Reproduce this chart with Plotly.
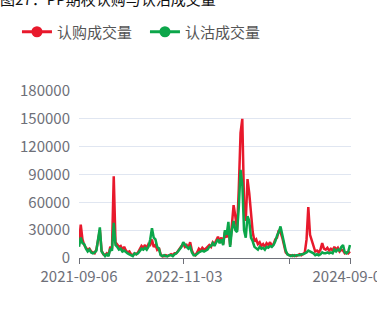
import pandas as pd
import plotly.graph_objects as go

TITLE = "图27：PP期权认购与认沽成交量"
SERIES_NAMES = ["认购成交量", "认沽成交量"]
START_DATE = "2021-09-06"
END_DATE = "2024-09-06 02:00"

# weekly readings (contracts)
call_volume = [
    15000, 36000, 20000, 14000, 11000, 9000, 10000, 7000, 6000, 5000,
    9000, 18000, 30000, 8000, 4000, 3000, 5000, 3000, 12000, 10000,
    88000, 17000, 14000, 12000, 13000, 9000, 12000, 8000, 6000, 7000,
    4000, 3000, 5000, 4000, 6000, 9000, 13000, 11000, 14000, 10000,
    15000, 14000, 20000, 12000, 14000, 9000, 11000, 4000, 2000, 2000,
    3000, 2000, 3000, 4000, 3000, 5000, 5000, 8000, 10000, 13000,
    15000, 12000, 14000, 11000, 17000, 8000, 4000, 3000, 6000, 10000,
    8000, 11000, 9000, 10000, 12000, 14000, 12000, 17000, 15000, 20000,
    23000, 18000, 22000, 15000, 28000, 22000, 33000, 14000, 40000, 57000,
    45000, 30000, 75000, 135000, 150000, 60000, 40000, 85000, 70000, 45000,
    28000, 18000, 20000, 15000, 17000, 13000, 15000, 12000, 16000, 14000,
    17000, 13000, 15000, 20000, 22000, 30000, 28000, 22000, 12000, 6000,
    4000, 3000, 3000, 2000, 3000, 2000, 3000, 4000, 3000, 5000,
    6000, 20000, 55000, 25000, 18000, 11000, 7000, 8000, 6000, 9000,
    16000, 10000, 9000, 11000, 8000, 10000, 8000, 12000, 9000, 11000,
    7000, 9000, 8000, 5000, 6000, 5000, 7000,
]
put_volume = [
    12000, 22000, 16000, 15000, 10000, 7000, 9000, 6000, 5000, 6000,
    8000, 20000, 33000, 7000, 5000, 2000, 4000, 2000, 10000, 8000,
    38000, 14000, 12000, 9000, 10000, 7000, 8000, 6000, 5000, 4000,
    3000, 2000, 5000, 4000, 5000, 7000, 10000, 9000, 11000, 9000,
    12000, 20000, 32000, 22000, 20000, 12000, 10000, 3000, 2000, 3000,
    2000, 2000, 3000, 3000, 2000, 4000, 5000, 7000, 9000, 12000,
    17000, 14000, 12000, 10000, 12000, 6000, 3000, 3000, 5000, 6000,
    7000, 8000, 7000, 8000, 9000, 12000, 13000, 16000, 13000, 17000,
    20000, 16000, 20000, 14000, 30000, 25000, 39000, 12000, 30000, 40000,
    30000, 28000, 55000, 95000, 80000, 30000, 22000, 45000, 40000, 22000,
    18000, 12000, 10000, 9000, 12000, 10000, 11000, 9000, 12000, 11000,
    13000, 12000, 14000, 18000, 24000, 28000, 34000, 25000, 14000, 8000,
    4000, 3000, 2000, 3000, 2000, 3000, 3000, 3000, 4000, 4000,
    5000, 6000, 8000, 7000, 6000, 5000, 3000, 4000, 3000, 4000,
    6000, 5000, 5000, 6000, 5000, 6000, 5000, 9000, 7000, 9000,
    8000, 12000, 14000, 6000, 5000, 7000, 14000,
]
x_tick_dates = ["2021-09-06", "2022-11-03", "2024-01-03", "2024-09-06"]
x_tick_labels = ["2021-09-06", "2022-11-03", "", "2024-09-06"]
y_ticks = [0, 30000, 60000, 90000, 120000, 150000, 180000]

COLORS = ["#E8192C", "#0CA64A"]

dates = pd.date_range(START_DATE, periods=len(call_volume), freq="7D")

fig = go.Figure()
for name, vals, col in zip(SERIES_NAMES, [call_volume, put_volume], COLORS):
    fig.add_trace(go.Scatter(
        x=dates, y=vals, mode="lines", name=name,
        line=dict(color=col, width=2.5), showlegend=False, hoverinfo="skip",
    ))
for name, col in zip(SERIES_NAMES, COLORS):
    fig.add_trace(go.Scatter(
        x=[None], y=[None], mode="lines+markers", name=name,
        line=dict(color=col, width=3), marker=dict(color=col, size=11),
    ))

fig.update_layout(
    width=377, height=314,
    margin=dict(l=79, r=26, t=91, b=56, autoexpand=False),
    paper_bgcolor="white", plot_bgcolor="white",
    font=dict(family="Noto Sans CJK SC, Noto Sans, sans-serif", color="#6E7079"),
    title=dict(text=TITLE, x=0, xanchor="left", xref="container",
               y=1.0, yref="container", yanchor="middle",
               font=dict(size=15, color="#111111")),
    legend=dict(orientation="h", xref="container", yref="container",
                x=0.045, y=1 - 32 / 314, xanchor="left", yanchor="middle",
                font=dict(size=15, color="#555555"),
                itemwidth=30, entrywidth=83, entrywidthmode="pixels",
                bgcolor="rgba(0,0,0,0)"),
    showlegend=True,
)
fig.update_xaxes(
    range=[START_DATE, END_DATE], tickmode="array",
    tickvals=x_tick_dates, ticktext=x_tick_labels,
    showgrid=False, showline=True, linecolor="#6E7079", linewidth=1,
    ticks="outside", ticklen=5, tickcolor="#6E7079",
    ticklabeloverflow="allow", automargin=False,
    tickfont=dict(size=15, color="#6E7079"), zeroline=False,
)
fig.update_yaxes(
    range=[0, 180000], tickmode="array", tickvals=y_ticks,
    ticktext=[str(v) for v in y_ticks],
    showgrid=True, gridcolor="#E0E6F1", gridwidth=1,
    showline=False, zeroline=False, ticks="", automargin=False,
    ticklabelstandoff=8,
    tickfont=dict(size=15, color="#6E7079"),
)

fig.write_html("out.html")
